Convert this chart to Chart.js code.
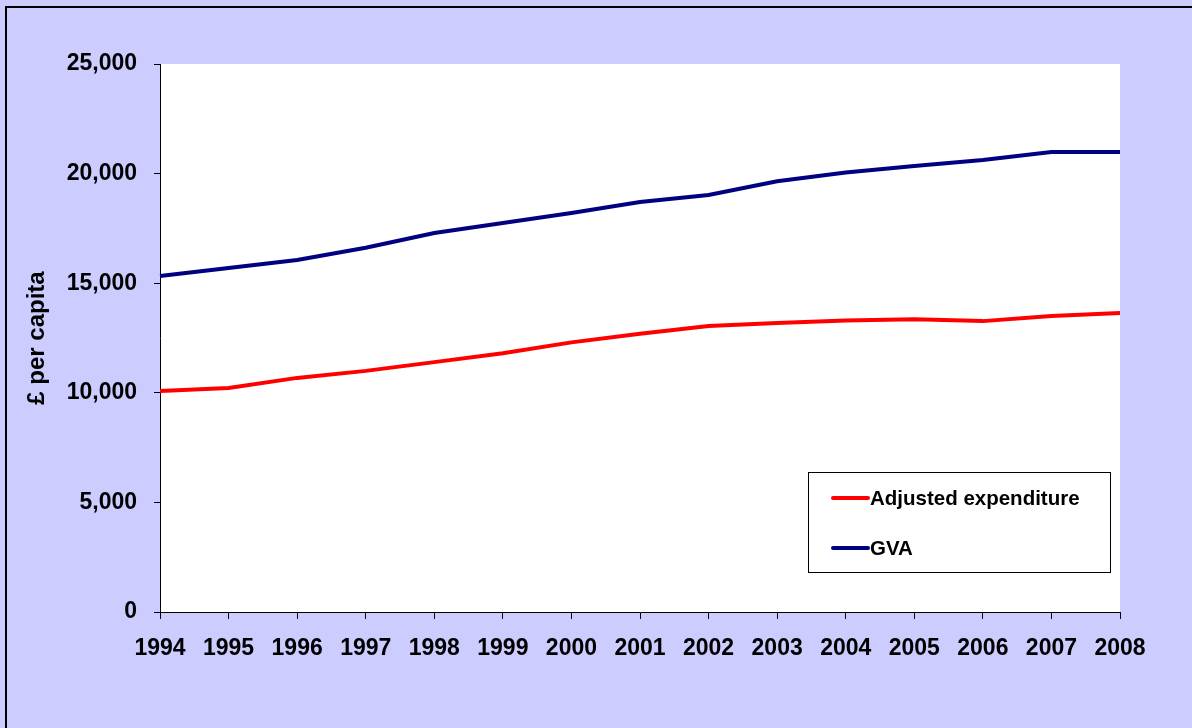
<!DOCTYPE html>
<html>
<head>
<meta charset="utf-8">
<script src="https://cdn.jsdelivr.net/npm/chart.js@4/dist/chart.umd.min.js"></script>
<style>
  html, body { margin: 0; padding: 0; background: #ccccff; }
  #wrap { width: 1192px; height: 728px; position: relative; }
</style>
</head>
<body>
<div id="wrap"><canvas id="chart" width="1192" height="728"></canvas></div>
<script>
const years = ["1994", "1995", "1996", "1997", "1998", "1999", "2000", "2001",
  "2002", "2003", "2004", "2005", "2006", "2007", "2008"];
const adjustedExpenditure = [10080, 10220, 10680, 11000, 11400, 11800, 12300, 12690,
  13050, 13180, 13300, 13360, 13270, 13500, 13640];
const gva = [15330, 15690, 16060, 16620, 17290, 17750, 18200, 18700,
  19020, 19650, 20050, 20350, 20620, 20990, 20990];
const yTicks = [0, 5000, 10000, 15000, 20000, 25000];

const FONT = "'Liberation Sans', Arial, sans-serif";

// lavender page with the thin black frame on the top and left
const background = {
  id: "background",
  beforeDraw(chart) {
    const ctx = chart.ctx;
    const a = chart.chartArea;
    ctx.save();
    ctx.fillStyle = "#ccccff";
    ctx.fillRect(0, 0, chart.width, chart.height);
    ctx.strokeStyle = "#000";
    ctx.lineWidth = 2;
    ctx.strokeRect(6, 7, chart.width + 20, chart.height + 20);
    ctx.fillStyle = "#ffffff";
    ctx.fillRect(a.left, a.top, a.right - a.left, a.bottom - a.top);
    ctx.restore();
  }
};

// boxed legend inside the plot, like the original
const boxLegend = {
  id: "boxLegend",
  afterDraw(chart) {
    const ctx = chart.ctx;
    const x = 808, y = 472, w = 302, h = 100;
    ctx.save();
    ctx.fillStyle = "#fff";
    ctx.fillRect(x, y, w, h);
    ctx.strokeStyle = "#000";
    ctx.lineWidth = 1;
    ctx.strokeRect(x + 0.5, y + 0.5, w, h);
    ctx.font = "bold 20.5px " + FONT;
    ctx.textBaseline = "middle";
    chart.data.datasets.forEach((ds, i) => {
      const ly = y + 26 + i * 50;
      ctx.strokeStyle = ds.borderColor;
      ctx.lineWidth = 4;
      ctx.lineCap = "round";
      ctx.beginPath();
      ctx.moveTo(833, ly);
      ctx.lineTo(868, ly);
      ctx.stroke();
      ctx.fillStyle = "#000";
      ctx.fillText(ds.label, 870, ly + 1);
    });
    ctx.restore();
  }
};

new Chart(document.getElementById("chart"), {
  type: "line",
  data: {
    labels: years,
    datasets: [
      {
        label: "Adjusted expenditure",
        data: adjustedExpenditure,
        borderColor: "#ff0000",
        backgroundColor: "#ff0000",
        borderWidth: 4,
        pointRadius: 0,
        tension: 0
      },
      {
        label: "GVA",
        data: gva,
        borderColor: "#000080",
        backgroundColor: "#000080",
        borderWidth: 4,
        pointRadius: 0,
        tension: 0
      }
    ]
  },
  options: {
    responsive: false,
    animation: false,
    layout: { padding: { top: 64, right: 72, left: 0, bottom: 0 } },
    plugins: {
      legend: { display: false },
      tooltip: { enabled: false }
    },
    scales: {
      x: {
        offset: false,
        afterFit(scale) { scale.height = 116; },
        grid: { drawOnChartArea: false, drawTicks: true, tickLength: 7, color: "#000" },
        border: { color: "#000", width: 1 },
        ticks: {
          color: "#000",
          padding: 16,
          maxRotation: 0,
          autoSkip: false,
          font: { family: FONT, size: 23, weight: "bold" }
        }
      },
      y: {
        min: 0,
        max: 25000,
        afterFit(scale) { scale.width = 160; },
        afterBuildTicks(scale) { scale.ticks = yTicks.map(v => ({ value: v })); },
        grid: { drawOnChartArea: false, drawTicks: true, tickLength: 6, color: "#000" },
        border: { color: "#000", width: 1 },
        title: {
          display: true,
          text: "£ per capita",
          color: "#000",
          padding: { top: 23, bottom: 0 },
          font: { family: FONT, size: 24, weight: "bold" }
        },
        ticks: {
          color: "#000",
          padding: 17,
          font: { family: FONT, size: 23, weight: "bold" },
          callback: v => v.toLocaleString("en-GB")
        }
      }
    }
  },
  plugins: [background, boxLegend]
});
</script>
</body>
</html>
